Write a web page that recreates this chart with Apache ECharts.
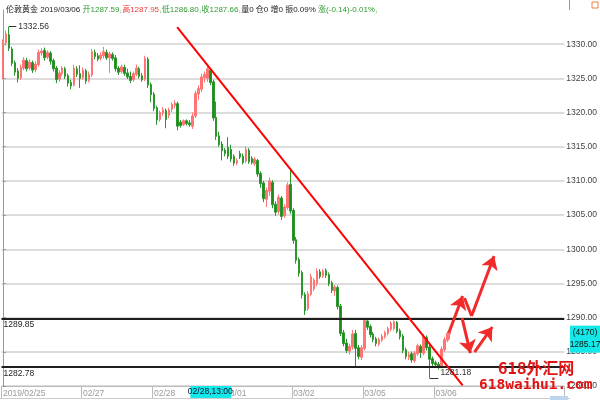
<!DOCTYPE html>
<html><head><meta charset="utf-8">
<script src="https://cdn.jsdelivr.net/npm/echarts@6/dist/echarts.min.js"></script>
<style>html,body{margin:0;padding:0;background:#fff}#c{width:600px;height:400px}</style>
</head><body><div id="c"></div>
<script>
// ---- data ----
// [open, close, low, high]
const candles = [
[1329.5,1330.4,1324.9,1330.7],[1330.2,1331.5,1329.8,1332.0],[1331.4,1329.4,1329.0,1332.56],[1329.3,1327.2,1326.8,1329.6],
[1327.3,1325.9,1325.4,1327.6],[1326.1,1325.0,1324.4,1326.5],[1325.1,1326.6,1324.8,1327.0],[1326.5,1327.7,1326.2,1328.1],
[1327.6,1326.4,1326.0,1328.0],[1326.5,1327.4,1326.2,1327.8],[1327.3,1326.2,1325.8,1327.6],[1326.3,1327.1,1325.9,1327.5],
[1327.0,1328.8,1326.7,1329.2],[1328.7,1329.0,1328.3,1329.4],[1329.1,1328.0,1327.6,1329.5],[1328.1,1328.8,1327.8,1329.1],
[1328.7,1327.5,1327.0,1329.0],[1327.6,1326.4,1326.0,1327.9],[1326.5,1324.8,1324.3,1326.8],[1324.9,1325.8,1324.5,1326.2],
[1325.7,1326.5,1325.3,1326.8],[1326.4,1325.3,1324.9,1326.7],[1325.4,1324.3,1323.8,1325.7],[1324.4,1323.9,1323.4,1324.8],
[1324.0,1326.5,1323.8,1327.0],[1326.4,1325.6,1325.2,1326.8],[1325.7,1325.0,1323.6,1326.9],[1325.1,1326.2,1324.8,1326.6],
[1326.1,1324.6,1324.2,1326.4],[1324.7,1325.6,1324.4,1326.0],[1325.5,1328.9,1325.2,1329.3],[1328.8,1328.2,1327.8,1329.2],
[1328.3,1327.8,1327.5,1328.7],[1327.9,1328.4,1327.6,1328.8],[1328.3,1328.9,1327.9,1329.6],[1328.8,1328.0,1327.7,1329.2],
[1328.0,1328.6,1325.8,1328.9],[1328.5,1327.9,1327.6,1328.8],[1328.0,1326.4,1326.0,1328.4],[1326.5,1325.9,1325.5,1326.8],
[1326.0,1326.7,1325.7,1327.0],[1326.6,1325.7,1325.4,1327.0],[1325.8,1325.2,1324.9,1326.4],[1325.3,1324.7,1324.3,1326.0],
[1324.8,1325.7,1324.5,1326.0],[1325.6,1326.5,1325.3,1327.0],[1326.4,1325.3,1325.0,1326.7],[1325.4,1324.8,1324.5,1325.8],
[1324.9,1327.9,1324.6,1328.3],[1327.8,1324.0,1323.6,1328.1],[1324.1,1322.6,1321.5,1324.4],[1322.7,1320.6,1320.2,1323.0],
[1320.7,1318.9,1318.2,1321.0],[1319.0,1320.0,1318.7,1320.3],[1319.9,1320.4,1319.5,1320.8],[1320.3,1319.0,1317.7,1320.6],
[1319.6,1320.4,1319.2,1320.7],[1320.5,1321.2,1320.1,1321.5],[1321.0,1321.4,1320.6,1321.8],[1321.3,1318.0,1317.4,1321.6],
[1318.6,1318.1,1317.8,1318.9],[1318.2,1318.8,1318.0,1319.0],[1318.8,1318.4,1318.1,1319.0],[1318.5,1318.2,1317.9,1318.9],
[1318.0,1319.5,1317.6,1320.0],[1319.5,1322.8,1319.2,1323.2],[1322.7,1323.5,1321.8,1324.0],[1323.4,1325.2,1323.0,1325.7],
[1325.1,1325.6,1324.4,1326.0],[1325.0,1326.4,1324.5,1326.9],[1326.2,1324.4,1324.0,1326.5],[1324.5,1319.2,1318.8,1324.8],
[1319.3,1316.5,1316.0,1321.6],[1316.6,1315.3,1315.0,1317.2],[1315.4,1314.4,1313.0,1315.8],[1314.5,1314.0,1313.6,1314.8],
[1314.9,1313.6,1313.2,1316.4],[1314.6,1313.2,1312.8,1315.3],[1313.6,1312.6,1312.2,1313.9],[1312.6,1313.0,1312.3,1313.3],
[1314.0,1313.5,1313.2,1314.4],[1313.6,1312.7,1312.4,1314.0],[1312.9,1314.6,1312.6,1315.0],[1314.5,1312.8,1312.5,1314.8],
[1313.3,1312.7,1312.4,1313.6],[1312.5,1313.2,1312.2,1313.5],[1313.0,1311.0,1310.6,1313.2],[1311.1,1309.6,1309.0,1311.4],
[1309.7,1307.4,1306.9,1310.0],[1307.3,1308.6,1306.2,1309.0],[1308.5,1310.0,1307.8,1310.5],[1309.8,1306.5,1306.0,1310.1],
[1306.6,1305.4,1304.9,1307.0],[1305.5,1307.6,1305.1,1308.0],[1307.5,1304.8,1304.3,1307.8],[1304.9,1306.2,1304.6,1306.6],
[1306.1,1309.4,1305.8,1309.8],[1309.5,1305.6,1305.2,1311.8],[1305.7,1301.3,1300.8,1306.0],[1301.4,1298.4,1297.9,1301.8],
[1298.5,1296.5,1296.0,1298.8],[1296.6,1293.3,1292.8,1296.9],[1293.4,1291.0,1290.4,1293.7],[1291.3,1293.5,1291.0,1293.9],
[1293.4,1296.0,1293.1,1296.4],[1294.2,1295.5,1293.9,1295.8],[1295.0,1296.8,1294.6,1297.2],[1296.7,1296.0,1295.7,1297.1],
[1296.1,1296.8,1295.8,1297.1],[1296.9,1296.2,1295.8,1297.2],[1296.3,1295.0,1294.6,1296.6],[1295.1,1294.0,1293.6,1295.4],
[1293.9,1294.5,1293.2,1294.8],[1294.4,1291.6,1291.2,1294.7],[1291.7,1287.7,1287.3,1292.0],[1287.8,1286.2,1285.8,1288.2],
[1286.3,1285.2,1284.8,1286.9],[1285.1,1285.8,1284.6,1286.2],[1285.7,1287.6,1285.3,1288.2],[1287.7,1285.5,1282.8,1288.2],
[1285.6,1284.3,1283.9,1286.0],[1284.2,1285.6,1283.8,1286.0],[1285.5,1289.6,1285.2,1289.9],[1289.5,1288.6,1288.2,1289.8],
[1288.7,1287.5,1287.1,1289.0],[1287.6,1286.8,1286.4,1287.9],[1286.9,1286.2,1285.8,1287.2],[1286.1,1286.8,1285.8,1287.1],
[1286.7,1287.3,1286.4,1287.6],[1287.2,1287.8,1286.9,1288.1],[1287.7,1288.4,1287.4,1288.7],[1288.3,1289.2,1288.0,1289.5],
[1288.4,1289.4,1288.1,1289.6],[1289.3,1288.0,1287.7,1289.5],[1288.1,1287.2,1286.8,1288.4],[1287.3,1285.2,1284.8,1287.6],
[1285.3,1284.3,1283.9,1285.6],[1284.2,1284.6,1283.8,1285.0],[1284.7,1283.8,1283.4,1285.0],[1283.7,1284.8,1283.4,1285.1],
[1284.7,1285.9,1284.4,1286.2],[1285.8,1284.9,1284.1,1286.1],[1284.8,1287.2,1284.5,1287.6],[1287.1,1285.6,1285.2,1287.4],
[1285.7,1283.9,1281.18,1286.0],[1284.0,1283.3,1282.9,1284.3],[1283.4,1283.1,1282.7,1283.7],[1283.2,1282.8,1282.4,1283.5],
[1282.9,1285.4,1282.6,1285.8],[1285.3,1286.8,1285.0,1287.2],[1286.7,1287.7,1286.4,1288.0],[1287.59,1287.66,1286.80,1287.95]
];
const slotCount = 190;               // candles + empty space on the right
const tickIndex = [0, 27, 51, 75, 98, 122, 146];
const tickText  = ['2019/02/25', '02/27', '02/28', '03/01', '03/02', '03/05', '03/06'];
const levels = [1289.85, 1282.78];
const peak = [2, 1332.56];
const trough = [144, 1281.18];
const trendLine = [[58.8, 1332.5], [155.2, 1280.1]];
// arrow segments: [from, to, arrowhead?]
const arrowSegs = [
  [[150.5, 1287.75], [155.2, 1293.16], true],
  [[155.8, 1292.87], [158.2, 1290.24], false],
  [[158.2, 1290.24], [165.8, 1299.0], true],
  [[155.0, 1289.94], [157.8, 1284.82], true],
  [[159.2, 1284.97], [165.2, 1288.63], true]
];
const headerName = '伦敦黄金';
const headerDate = '2019/03/06';
const quoteLabels = ['开', '高', '低', '收'];
const quoteValues = ['1287.59', '1287.95', '1286.80', '1287.66'];
const statText = '量0 仓0 增0 振0.09%';
const changeText = '涨(-0.14)-0.01%';
const crossTime = [70, '02/28,13:00'];
const crossPrice = [1285.17, '(4170)', '1285.17'];
const watermark = ['618外汇网', '618waihui.com'];

// ---- chart ----
const FONT = "'Liberation Sans','Noto Sans CJK SC',sans-serif";
const chart = echarts.init(document.getElementById('c'), null, {renderer: 'canvas'});
const categories = Array.from({length: slotCount}, (_, i) => String(i));
const hdrColors = ['g', 'r', 'g', 'g'];
let header = '{k|' + headerName + ' ' + headerDate + ' }';
quoteLabels.forEach((l, i) => { header += '{' + hdrColors[i] + '|' + l + quoteValues[i] + '}{a|↓}'; });
header += '{k|' + statText + ' }{g|' + changeText + '}{a|↓}';

const annot = [];
annot.push([{coord: trendLine[0], lineStyle: {color: '#ff0000', width: 2}, label: {show: false}}, {coord: trendLine[1]}]);
arrowSegs.forEach(s => {
  annot.push([{coord: s[0], lineStyle: {color: '#f22a2a', width: 3}, label: {show: false}},
              {coord: s[1], symbol: s[2] ? 'arrow' : 'none', symbolSize: 13}]);
});
annot.push([{coord: peak, lineStyle: {color: '#333', width: 1}, label: {show: true, position: 'end', distance: 2, formatter: peak[1].toFixed(2), color: '#333', fontSize: 8.5, fontFamily: FONT}},
            {coord: [peak[0] + 2.5, peak[1]]}]);
annot.push([{coord: trough, lineStyle: {color: '#333', width: 1}, label: {show: true, position: 'end', distance: 2, offset: [0, -5], formatter: trough[1].toFixed(2), color: '#333', fontSize: 8.5, fontFamily: FONT}},
            {coord: [trough[0] + 3, trough[1]]}]);

chart.setOption({
  animation: false,
  title: {left: 1, top: 1, text: header, textStyle: {fontSize: 8, fontFamily: FONT, fontWeight: 'normal',
    rich: {k: {color: '#222', fontSize: 8, fontFamily: FONT}, g: {color: '#2f9a2f', fontSize: 8, fontFamily: FONT},
           r: {color: '#f03c3c', fontSize: 8, fontFamily: FONT}, a: {color: '#2f9a2f', fontSize: 5.5, fontFamily: FONT, verticalAlign: 'bottom'}}}},
  grid: {left: 0, right: 30, top: 10, bottom: 14},
  xAxis: [{
    type: 'category', data: categories, boundaryGap: true,
    axisLine: {lineStyle: {color: '#bbb'}},
    axisTick: {show: true, length: 12, lineStyle: {color: '#bbb'}, interval: (i) => tickIndex.indexOf(i) >= 0},
    axisLabel: {interval: (i) => tickIndex.indexOf(i) >= 0, formatter: (v, i) => tickText[tickIndex.indexOf(i)] || '',
      align: 'left', margin: 3, color: '#999', fontSize: 8.5, fontFamily: FONT},
    splitLine: {show: false}
  }, {
    type: 'value', min: -0.5, max: slotCount - 0.5, show: false
  }],
  yAxis: {
    type: 'value', position: 'right', min: 1280, max: 1335, interval: 5, scale: true,
    axisLine: {show: true, lineStyle: {color: '#999'}},
    axisTick: {show: true, length: 3, lineStyle: {color: '#999'}},
    axisLabel: {color: '#444', fontSize: 8.5, fontFamily: FONT, margin: 2, formatter: v => v.toFixed(2), showMaxLabel: false},
    splitLine: {show: true, showMaxLine: false, lineStyle: {color: '#dcdcdc', width: 2}}
  },
  series: [{
    type: 'candlestick', data: candles, barWidth: 2,
    itemStyle: {color: '#ff7474', color0: '#1d8c1d', borderColor: '#ff7474', borderColor0: '#2b962b', borderWidth: 1},
    markLine: {
      silent: true, symbol: ['none', 'none'], animation: false,
      lineStyle: {color: '#1e1e1e', width: 2, type: 'solid'},
      label: {position: 'insideStartBottom', color: '#222', fontSize: 8.5, fontFamily: FONT, formatter: p => p.value.toFixed(2), distance: 2},
      data: levels.map(v => ({yAxis: v}))
    }
  }, {
    type: 'line', xAxisIndex: 1, data: [], silent: true,
    markLine: {silent: true, symbol: ['none', 'none'], animation: false, lineStyle: {type: 'solid'}, data: annot}
  }]
});

const xc = chart.convertToPixel({xAxisIndex: 0}, crossTime[0]);
const yc = chart.convertToPixel({yAxisIndex: 0}, crossPrice[0]);
chart.setOption({
  graphic: [
    {type: 'line', shape: {x1: 0, y1: 398.5, x2: 570, y2: 398.5}, style: {stroke: '#ccc', lineWidth: 1}},
    {type: 'line', shape: {x1: 569.5, y1: 0, x2: 569.5, y2: 10}, style: {stroke: '#999', lineWidth: 1}},
    {type: 'rect', shape: {x: xc - 20, y: 386, width: 41, height: 12}, style: {fill: '#14e8e8'}, z: 50},
    {type: 'text', x: xc, y: 392, style: {text: crossTime[1], fill: '#101030', font: '8.5px ' + FONT, align: 'center', verticalAlign: 'middle'}, z: 51},
    {type: 'rect', shape: {x: 570, y: yc - 25, width: 30, height: 27}, style: {fill: '#14e8e8'}, z: 50},
    {type: 'text', x: 585, y: yc - 18, style: {text: crossPrice[1], fill: '#111', font: '8.5px ' + FONT, align: 'center', verticalAlign: 'middle'}, z: 51},
    {type: 'text', x: 585, y: yc - 6, style: {text: crossPrice[2], fill: '#111', font: '8.5px ' + FONT, align: 'center', verticalAlign: 'middle'}, z: 51},
    {type: 'rect', shape: {x: 592, y: 2, width: 6, height: 6}, style: {fill: 'none', stroke: '#f08040', lineWidth: 1}, z: 50},
    {type: 'rect', shape: {x: 550, y: 396, width: 18, height: 4}, style: {fill: '#bcd6ee'}, z: 40},
    {type: 'text', x: 498, y: 360, style: {text: watermark[0], fill: '#e01414', font: 'bold 16px "Noto Sans CJK SC"'}, z: 60},
    {type: 'text', x: 479, y: 378, style: {text: watermark[1], fill: '#e01414', font: 'bold 14.5px "DejaVu Sans Mono"'}, z: 60}
  ]
});
</script></body></html>
